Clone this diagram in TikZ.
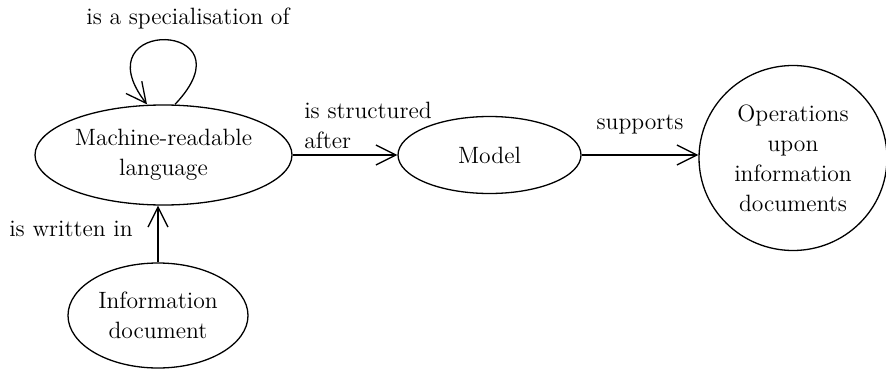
\documentclass[tikz,border=0pt]{standalone}
\usepackage{tikz}
\usetikzlibrary{shapes.geometric,arrows.meta}

\begin{document}
\begin{tikzpicture}[x=1pt,y=1pt,line width=0.65pt,
    font=\fontsize{11.8}{15}\selectfont,
    concept/.style={draw,ellipse,inner sep=0pt,align=center},
    rel/.style={-{Straight Barb[length=10pt,width=10pt]}}]
        \useasboundingbox (0,0) rectangle (443,-184.5);
        % Concepts
        \node[concept,minimum width=128.5pt,minimum height=50pt] (mrl) at (81.75,-77.5) {Machine-readable\\language};
        \node[concept,minimum width=91.5pt,minimum height=38.5pt] (model) at (244.75,-77.5) {Model};
        \node[concept,minimum width=94pt,minimum height=92.5pt] (ops) at (396.5,-79) {Operations\\upon\\information\\documents};
        \node[concept,minimum width=90pt,minimum height=52.5pt] (info) at (79,-157.75) {Information\\document};
        % Relations
        \draw[rel] ([xshift=5.75pt]mrl.north) .. controls +(40,42) and +(-34,44) .. ([xshift=-8.25pt]mrl.north);
        \node (specof) at (94,-9) {is a specialisation of};
        \draw[rel] (mrl.east) -- (model.west);
        \node[align=left,anchor=west] (structafter) at (148.5,-62.5) {is structured\\after};
        \draw[rel] (model.east) -- (model.east -| ops.west);
        \node (supports) at (320,-62.5) {supports};
        \draw[rel] (info.north) -- (info.north |- mrl.south);
        \node (writtenin) at (35.5,-114.5) {is written in};
\end{tikzpicture}
\end{document}
